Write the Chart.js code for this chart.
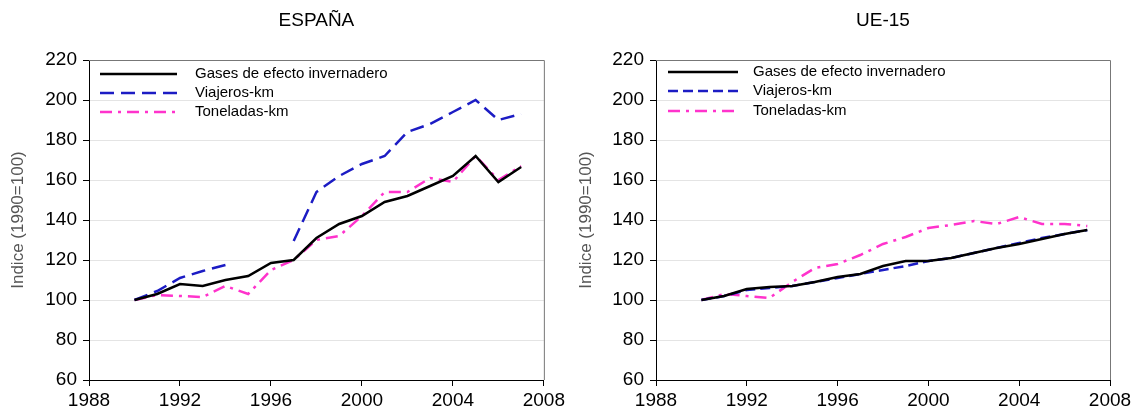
<!DOCTYPE html>
<html>
<head>
<meta charset="utf-8">
<script src="https://cdn.jsdelivr.net/npm/chart.js@4"></script>
<style>
  html, body { margin: 0; padding: 0; background: #fff; }
  .box { position: absolute; top: 0; height: 415px; }
  #left { left: 0; width: 568px; }
  #right { left: 568px; width: 569px; }
</style>
</head>
<body>
<div class="box" id="left"><canvas id="chartES"></canvas></div>
<div class="box" id="right"><canvas id="chartUE"></canvas></div>
<script>
const YEARS = [1990, 1991, 1992, 1993, 1994, 1995, 1996, 1997, 1998, 1999, 2000, 2001, 2002, 2003, 2004, 2005, 2006, 2007];
const LABELS = ['Gases de efecto invernadero', 'Viajeros-km', 'Toneladas-km'];

const ES_GASES = [100, 103, 108, 107, 110, 112, 118.5, 120, 131, 138, 142, 149, 152, 157, 162, 172, 159, 166.5];
const ES_VIAJEROS = [100, 104.5, 111, 114.5, 117.5, null, null, 129.5, 154, 162, 168, 172, 184, 188, 194, 200, 190, 193];
const ES_TONELADAS = [100, 102.5, 102, 101.5, 107, 103, 115, 120, 130, 132, 142, 154, 154, 161, 159, 172, 160, 167];

const UE_GASES = [100, 102, 105.5, 106.5, 107, 109, 111.5, 113, 117, 119.5, 119.5, 121, 123.5, 126, 128, 130.5, 133, 135];
const UE_VIAJEROS = [100, 102, 105, 106, 107, 109, 111, 113, 115, 117, 119.5, 121, 123.5, 126, 128.5, 131, 133, 135];
const UE_TONELADAS = [100, 103, 102, 101, 109, 116, 118, 122.5, 128, 131.5, 136, 137.5, 139.5, 138, 141.5, 138, 138, 137];

const FONT = '"Liberation Sans", Arial, sans-serif';
Chart.defaults.font.family = FONT;
Chart.defaults.color = '#000';

const toXY = vals => YEARS.map((yr, i) => ({x: yr, y: vals[i]}));

// chart title centred over the plot area
const plotTitle = {
    id: 'plotTitle',
    afterDraw(chart, args, o) {
        const ctx = chart.ctx;
        const a = chart.chartArea;
        ctx.save();
        ctx.fillStyle = '#000';
        ctx.font = '19px ' + FONT;
        ctx.textAlign = 'center';
        ctx.textBaseline = 'middle';
        ctx.fillText(o.text, (a.left + a.right) / 2, 21);
        ctx.restore();
    }
};

// legend drawn inside the plot, top-left
const innerLegend = {
    id: 'innerLegend',
    afterDatasetsDraw(chart, args, o) {
        const ctx = chart.ctx;
        const a = chart.chartArea;
        ctx.save();
        chart.data.datasets.forEach((ds, i) => {
            const y = a.top + o.rows[i];
            ctx.beginPath();
            ctx.setLineDash(ds.borderDash || []);
            ctx.strokeStyle = ds.borderColor;
            ctx.lineWidth = ds.borderWidth;
            ctx.moveTo(a.left + o.x0, y);
            ctx.lineTo(a.left + o.x1, y);
            ctx.stroke();
            ctx.setLineDash([]);
            ctx.fillStyle = '#000';
            ctx.font = '15px ' + FONT;
            ctx.textBaseline = 'middle';
            ctx.fillText(ds.label, a.left + o.tx, y);
        });
        ctx.restore();
    }
};

// grey top and right edges of the plot box
const frame = {
    id: 'frame',
    beforeDatasetsDraw(chart) {
        const ctx = chart.ctx;
        const a = chart.chartArea;
        ctx.save();
        ctx.strokeStyle = '#777';
        ctx.lineWidth = 1;
        ctx.beginPath();
        ctx.moveTo(a.left, a.top + 0.5);
        ctx.lineTo(a.right + 0.5, a.top + 0.5);
        ctx.lineTo(a.right + 0.5, a.bottom);
        ctx.stroke();
        ctx.restore();
    }
};

function makeChart(id, title, series, look) {
    new Chart(document.getElementById(id), {
        type: 'line',
        data: {
            datasets: [
                {
                    label: LABELS[0],
                    data: toXY(series[0]),
                    borderColor: '#000',
                    borderWidth: 2.5,
                },
                {
                    label: LABELS[1],
                    data: toXY(series[1]),
                    borderColor: '#1c1cc4',
                    borderWidth: 2.5,
                    borderDash: look.blueDash,
                },
                {
                    label: LABELS[2],
                    data: toXY(series[2]),
                    borderColor: '#ff33cc',
                    borderWidth: 2.5,
                    borderDash: look.pinkDash,
                },
            ]
        },
        options: {
            responsive: true,
            maintainAspectRatio: false,
            animation: false,
            spanGaps: false,
            elements: { point: { radius: 0 }, line: { tension: 0 } },
            layout: { padding: { left: 4, right: look.padRight, top: 60, bottom: 0 } },
            scales: {
                x: {
                    type: 'linear',
                    min: 1988,
                    max: 2008,
                    ticks: { stepSize: 4, font: { size: 19 }, padding: 3, callback: v => String(v) },
                    grid: { drawOnChartArea: false, tickLength: 6, tickColor: '#000' },
                    border: { color: '#000', width: 1 },
                    afterFit: s => { s.height = 35; },
                },
                y: {
                    min: 60,
                    max: 220,
                    ticks: { stepSize: 20, font: { size: 19 }, padding: 6 },
                    grid: { color: '#e4e4e4', tickLength: 6, tickColor: '#000' },
                    border: { color: '#000', width: 1 },
                    title: {
                        display: true,
                        text: 'Indice (1990=100)',
                        color: '#555',
                        font: { size: 17 },
                        padding: { top: look.titlePad, bottom: 0 },
                    },
                    afterFit: s => { s.width = look.yWidth; },
                },
            },
            plugins: {
                legend: { display: false },
                tooltip: { enabled: false },
                title: { display: false },
                plotTitle: { text: title },
                innerLegend: look.legend,
            },
        },
        plugins: [frame, innerLegend, plotTitle],
    });
}

makeChart('chartES', 'ESPAÑA', [ES_GASES, ES_VIAJEROS, ES_TONELADAS], {
    blueDash: [14, 7],
    pinkDash: [12, 6, 3, 6],
    padRight: 23,
    yWidth: 85,
    titlePad: 4,
    legend: { x0: 11, x1: 88, tx: 106, rows: [14, 33, 52] },
});

makeChart('chartUE', 'UE-15', [UE_GASES, UE_VIAJEROS, UE_TONELADAS], {
    blueDash: [10, 5],
    pinkDash: [12, 6, 3, 6],
    padRight: 27,
    yWidth: 84,
    titlePad: 4,
    legend: { x0: 12, x1: 82, tx: 97, rows: [12, 31, 51] },
});
</script>
</body>
</html>
